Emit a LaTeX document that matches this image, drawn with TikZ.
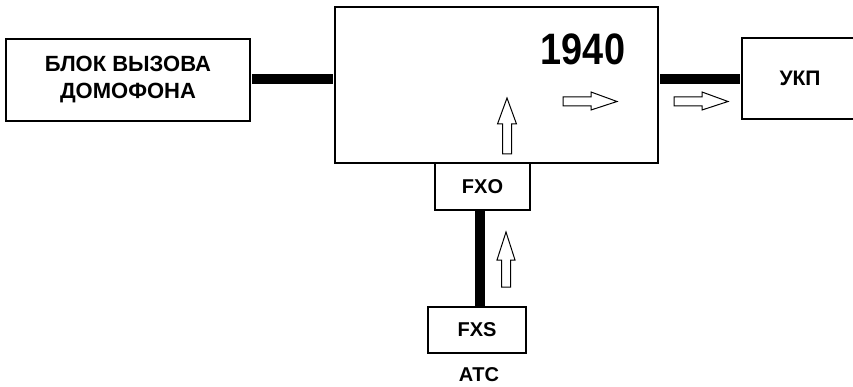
\documentclass[tikz,border=0pt]{standalone}
\usepackage{fontspec}
\setmainfont{Liberation Sans}
\begin{document}
\begin{tikzpicture}[x=1pt,y=-1pt,
  box/.style={draw=black,line width=2pt,fill=white,inner sep=0pt,align=center,font=\bfseries\fontsize{20}{25}\selectfont},
  bus/.style={line width=10pt,line cap=butt},
  hollow/.style={draw=black,line width=1pt,fill=white,line join=miter}]
\clip (0,0) rectangle (853,387);
\fill[white] (0,0) rectangle (853,387);
% connectors first (under boxes)
\node[box,minimum width=244pt,minimum height=82pt,font=\bfseries\fontsize{22}{27}\selectfont] (call) at (128,80) {БЛОК ВЫЗОВА\\ДОМОФОНА};
\node[box,minimum width=323pt,minimum height=156pt] (main) at (496.5,85) {};
\node[box,minimum width=130pt,minimum height=81pt] (ukp) at (807,78.5) {};
\node[font=\bfseries\fontsize{21}{25}\selectfont] (ukpt) at (800,78) {УКП};
\node[box,minimum width=95pt,minimum height=47pt] (fxo) at (482.5,186.5) {FXO};
\node[box,minimum width=98pt,minimum height=46pt] (fxs) at (477,330) {FXS};
\node[font=\bfseries\fontsize{20}{24}\selectfont] (atc) at (479,375) {АТС};
\node[font=\bfseries\fontsize{44}{50}\selectfont] (num) at (583,49) {\scalebox{0.86}[1]{1940}};
% buses
\coordinate (a1) at (call.east |- 0,79);
\coordinate (a2) at (main.west |- 0,79);
\draw[bus] ([xshift=1pt]a1) -- ([xshift=-1pt]a2);
\coordinate (b1) at (main.east |- 0,79);
\coordinate (b2) at (ukp.west |- 0,79);
\draw[bus] ([xshift=1pt]b1) -- ([xshift=-1pt]b2);
\coordinate (c1) at (479.5,0 |- fxo.south);
\coordinate (c2) at (479.5,0 |- fxs.north);
\draw[bus] ([yshift=1pt]c1) -- ([yshift=-1pt]c2);
% hollow arrows
\draw[hollow] (502.5,154) -- (502.5,124) -- (497.5,124) -- (507,98) -- (516.5,124) -- (511.5,124) -- (511.5,154) -- cycle;
\draw[hollow] (563,97) -- (591,97) -- (591,92) -- (617,101.5) -- (591,110) -- (591,106) -- (563,106) -- cycle;
\draw[hollow] (674,97) -- (702,97) -- (702,92) -- (728,101.5) -- (702,110) -- (702,106) -- (674,106) -- cycle;
\draw[hollow] (501.5,287) -- (501.5,260) -- (497,260) -- (506,232) -- (515,260) -- (510.5,260) -- (510.5,287) -- cycle;
\end{tikzpicture}
\end{document}
